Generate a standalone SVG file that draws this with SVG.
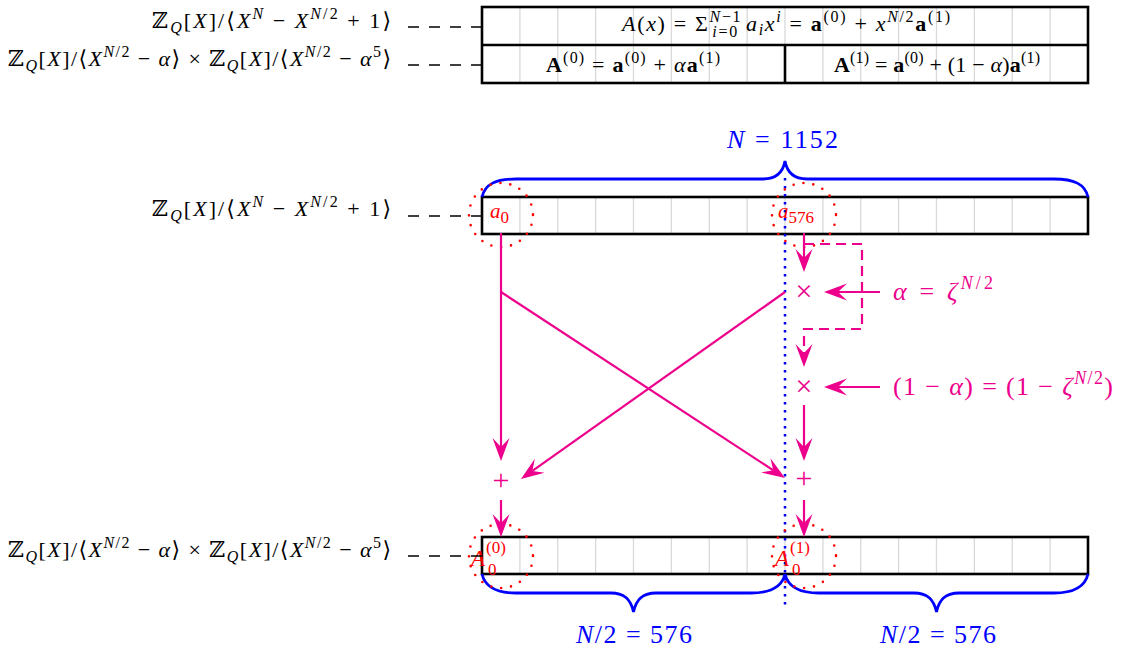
<svg xmlns="http://www.w3.org/2000/svg" width="1124" height="659" viewBox="0 0 1124 659">
<defs>
<style>
.t{font-family:"Liberation Serif","DejaVu Serif",serif;fill:#000}
.i{font-style:italic}
.b{font-weight:bold}
.grid{stroke:#d9d9d9;stroke-width:1.3;fill:none}
.box{fill:none;stroke:#000;stroke-width:2.6}
.lead{stroke:#000;stroke-width:1.3;stroke-dasharray:11 10;fill:none}
.mg{stroke:#EC008C;stroke-width:2.2;fill:none}
.mgd{stroke:#EC008C;stroke-width:2.2;fill:none;stroke-dasharray:10 6}
.brace{stroke:#0000FF;stroke-width:2.8;fill:none}
.circ{fill:none;stroke:#FF0000;stroke-width:2.6;stroke-dasharray:0 10;stroke-linecap:round}
.blue{fill:#0000FF}
.red{fill:#FF0000}
.mgt{fill:#EC008C}
</style>
<marker id="ah" markerUnits="userSpaceOnUse" viewBox="-10 -10 26 20" refX="0" refY="0" markerWidth="26" markerHeight="20" orient="auto"><path d="M14,0 L-9,-8.5 L0,0 L-9,8.5 Z" fill="#EC008C"/></marker>
</defs>
<rect width="1124" height="659" fill="#fff"/>

<!-- top table -->
<g id="top-table">
<path class="grid" d="M519.9,7V83M557.75,7V83M595.6,7V83M633.5,7V83M671.4,7V83M709.25,7V83M747.1,7V83M785,7V45M822.9,7V83M860.75,7V83M898.6,7V83M936.5,7V83M974.4,7V83M1012.25,7V83M1050.1,7V83"/>
<rect class="box" x="482" y="7" width="606" height="76"/>
<path class="box" d="M482,45H1088M785,45V83"/>
<text class="t" x="786" y="31" text-anchor="middle" font-size="22" textLength="328" lengthAdjust="spacing"><tspan class="i">A</tspan>(<tspan class="i">x</tspan>) = Σ<tspan font-size="16" dy="-9"><tspan class="i">N</tspan>−1</tspan><tspan font-size="16" dx="-30" dy="15"><tspan class="i">i</tspan>=0</tspan><tspan dy="-6"> </tspan><tspan class="i">a</tspan><tspan class="i" font-size="16" dy="4">i</tspan><tspan class="i" dy="-4">x</tspan><tspan class="i" font-size="16" dy="-9">i</tspan><tspan dy="9"> = </tspan><tspan class="b">a</tspan><tspan font-size="16" dy="-9">(0)</tspan><tspan dy="9"> + </tspan><tspan class="i">x</tspan><tspan class="i" font-size="16" dy="-9">N</tspan><tspan font-size="16">/2</tspan><tspan class="b" dy="9">a</tspan><tspan font-size="16" dy="-9">(1)</tspan></text>
<text class="t" x="633" y="72" text-anchor="middle" font-size="22" textLength="174" lengthAdjust="spacing"><tspan class="b">A</tspan><tspan font-size="16" dy="-9">(0)</tspan><tspan dy="9"> = </tspan><tspan class="b">a</tspan><tspan font-size="16" dy="-9">(0)</tspan><tspan dy="9"> + </tspan><tspan class="i">α</tspan><tspan class="b">a</tspan><tspan font-size="16" dy="-9">(1)</tspan></text>
<text class="t" x="937" y="72" text-anchor="middle" font-size="22" textLength="206" lengthAdjust="spacing"><tspan class="b">A</tspan><tspan font-size="16" dy="-9">(1)</tspan><tspan dy="9"> = </tspan><tspan class="b">a</tspan><tspan font-size="16" dy="-9">(0)</tspan><tspan dy="9"> + (1 − </tspan><tspan class="i">α</tspan>)<tspan class="b">a</tspan><tspan font-size="16" dy="-9">(1)</tspan></text>
</g>

<!-- ring labels -->
<g id="label-ring1">
<text class="t" x="391" y="28" text-anchor="end" font-size="22" textLength="239" lengthAdjust="spacing">ℤ<tspan class="i" font-size="16" dy="5">Q</tspan><tspan dy="-5">[</tspan><tspan class="i">X</tspan>]/⟨<tspan class="i">X</tspan><tspan class="i" font-size="16" dy="-9">N</tspan><tspan dy="9"> − </tspan><tspan class="i">X</tspan><tspan font-size="16" dy="-9"><tspan class="i">N</tspan>/2</tspan><tspan dy="9"> + 1⟩</tspan></text>
</g>
<g id="label-ring2">
<text class="t" x="391" y="66" text-anchor="end" font-size="22" textLength="383" lengthAdjust="spacing">ℤ<tspan class="i" font-size="16" dy="5">Q</tspan><tspan dy="-5">[</tspan><tspan class="i">X</tspan>]/⟨<tspan class="i">X</tspan><tspan font-size="16" dy="-9"><tspan class="i">N</tspan>/2</tspan><tspan dy="9"> − </tspan><tspan class="i">α</tspan>⟩ × ℤ<tspan class="i" font-size="16" dy="5">Q</tspan><tspan dy="-5">[</tspan><tspan class="i">X</tspan>]/⟨<tspan class="i">X</tspan><tspan font-size="16" dy="-9"><tspan class="i">N</tspan>/2</tspan><tspan dy="9"> − </tspan><tspan class="i">α</tspan><tspan font-size="16" dy="-9">5</tspan><tspan dy="9">⟩</tspan></text>
</g>
<g id="label-ring3">
<text class="t" x="391" y="216" text-anchor="end" font-size="22" textLength="239" lengthAdjust="spacing">ℤ<tspan class="i" font-size="16" dy="5">Q</tspan><tspan dy="-5">[</tspan><tspan class="i">X</tspan>]/⟨<tspan class="i">X</tspan><tspan class="i" font-size="16" dy="-9">N</tspan><tspan dy="9"> − </tspan><tspan class="i">X</tspan><tspan font-size="16" dy="-9"><tspan class="i">N</tspan>/2</tspan><tspan dy="9"> + 1⟩</tspan></text>
</g>
<g id="label-ring4">
<text class="t" x="391" y="557" text-anchor="end" font-size="22" textLength="383" lengthAdjust="spacing">ℤ<tspan class="i" font-size="16" dy="5">Q</tspan><tspan dy="-5">[</tspan><tspan class="i">X</tspan>]/⟨<tspan class="i">X</tspan><tspan font-size="16" dy="-9"><tspan class="i">N</tspan>/2</tspan><tspan dy="9"> − </tspan><tspan class="i">α</tspan>⟩ × ℤ<tspan class="i" font-size="16" dy="5">Q</tspan><tspan dy="-5">[</tspan><tspan class="i">X</tspan>]/⟨<tspan class="i">X</tspan><tspan font-size="16" dy="-9"><tspan class="i">N</tspan>/2</tspan><tspan dy="9"> − </tspan><tspan class="i">α</tspan><tspan font-size="16" dy="-9">5</tspan><tspan dy="9">⟩</tspan></text>
</g>

<!-- middle bar -->
<g id="poly-bar">
<path class="grid" d="M519.9,197V234M557.75,197V234M595.6,197V234M633.5,197V234M671.4,197V234M709.25,197V234M747.1,197V234M785,197V234M822.9,197V234M860.75,197V234M898.6,197V234M936.5,197V234M974.4,197V234M1012.25,197V234M1050.1,197V234"/>
<rect class="box" x="482" y="197" width="606" height="37"/>
</g>

<!-- bottom bar -->
<g id="ntt-bar">
<path class="grid" d="M519.9,537V574M557.75,537V574M595.6,537V574M633.5,537V574M671.4,537V574M709.25,537V574M747.1,537V574M785,537V574M822.9,537V574M860.75,537V574M898.6,537V574M936.5,537V574M974.4,537V574M1012.25,537V574M1050.1,537V574"/>
<rect class="box" x="482" y="537" width="606" height="37"/>
</g>

<!-- braces -->
<g id="brace-N">
<path class="brace" d="M482,197 C485,184 496,179 516,179 L763,179 C777,179 783,172 785,161 C787,172 793,179 807,179 L1054,179 C1074,179 1085,184 1088,197"/>
<text class="t blue" x="782.5" y="148" text-anchor="middle" font-size="26" textLength="111" lengthAdjust="spacing"><tspan class="i">N</tspan> = 1152</text>
</g>
<g id="brace-left">
<path class="brace" d="M482,574 C485,587 496,593 516,593 L611,593 C625,593 631,600 633.5,612 C636,600 642,593 656,593 L751,593 C771,593 782,587 785,574"/>
<text class="t blue" x="634" y="643" text-anchor="middle" font-size="26" textLength="116" lengthAdjust="spacing"><tspan class="i">N</tspan>/2 = 576</text>
</g>
<g id="brace-right">
<path class="brace" d="M785,574 C788,587 799,593 819,593 L914,593 C928,593 934,600 936.5,612 C939,600 945,593 959,593 L1054,593 C1074,593 1085,587 1088,574"/>
<text class="t blue" x="938" y="643" text-anchor="middle" font-size="26" textLength="116" lengthAdjust="spacing"><tspan class="i">N</tspan>/2 = 576</text>
</g>

<!-- split line -->
<g id="split">
<path d="M785,178V608" stroke="#0000FF" stroke-width="2.5" stroke-dasharray="2.5 5.5" fill="none"/>
</g>

<!-- operators -->
<g id="mul1"><text class="t mgt" x="804" y="301" text-anchor="middle" font-size="30">×</text></g>
<g id="mul2"><text class="t mgt" x="804" y="396" text-anchor="middle" font-size="30">×</text></g>
<g id="add1"><text class="t mgt" x="501" y="490" text-anchor="middle" font-size="30">+</text></g>
<g id="add2"><text class="t mgt" x="804" y="488" text-anchor="middle" font-size="30">+</text></g>
<g id="twiddle1"><text class="t mgt" x="893" y="300" font-size="26" textLength="100" lengthAdjust="spacing"><tspan class="i">α</tspan> = <tspan class="i">ζ</tspan><tspan font-size="18" dy="-11"><tspan class="i">N</tspan>/2</tspan></text></g>
<g id="twiddle2"><text class="t mgt" x="893" y="395" font-size="26" textLength="220" lengthAdjust="spacing">(1 − <tspan class="i">α</tspan>) = (1 − <tspan class="i">ζ</tspan><tspan font-size="18" dy="-11"><tspan class="i">N</tspan>/2</tspan><tspan dy="11">)</tspan></text></g>

<!-- highlighted coefficients -->
<g id="coef-a0">
<circle class="circ" cx="501" cy="215" r="32"/>
<text class="t red" x="490" y="218" font-size="21"><tspan class="i">a</tspan><tspan font-size="17" dy="5">0</tspan></text>
</g>
<g id="coef-a576">
<circle class="circ" cx="804" cy="215" r="32"/>
<text class="t red" x="778" y="218" font-size="21"><tspan class="i">a</tspan><tspan font-size="17" dy="5">576</tspan></text>
</g>
<g id="coef-A0">
<circle class="circ" cx="501" cy="556" r="32"/>
<text class="t red i" x="471" y="566" font-size="23">A</text>
<text class="t red" x="486" y="553" font-size="17">(0)</text>
<text class="t red" x="488" y="575" font-size="17">0</text>
</g>
<g id="coef-A1">
<circle class="circ" cx="804" cy="556" r="32"/>
<text class="t red i" x="775" y="566" font-size="23">A</text>
<text class="t red" x="790" y="553" font-size="17">(1)</text>
<text class="t red" x="792" y="575" font-size="17">0</text>
</g>

<!-- connectors -->
<g id="connectors">
<path class="lead" d="M482,27H404"/>
<path class="lead" d="M482,65H404"/>
<path class="lead" d="M482,216H404"/>
<path class="lead" d="M482,556H404"/>
<path class="mg" d="M501,233V447" marker-end="url(#ah)"/>
<path class="mg" d="M501,292L773.3,470.3" marker-end="url(#ah)"/>
<path class="mg" d="M785,292L532.4,470.9" marker-end="url(#ah)"/>
<path class="mg" d="M804,233V258" marker-end="url(#ah)"/>
<path class="mgd" d="M804,244H862V329H804V353" marker-end="url(#ah)"/>
<path class="mg" d="M880,292H838" marker-end="url(#ah)"/>
<path class="mg" d="M880,387H838" marker-end="url(#ah)"/>
<path class="mg" d="M804,405V447" marker-end="url(#ah)"/>
<path class="mg" d="M501,500V523" marker-end="url(#ah)"/>
<path class="mg" d="M804,500V523" marker-end="url(#ah)"/>
</g>
</svg>
